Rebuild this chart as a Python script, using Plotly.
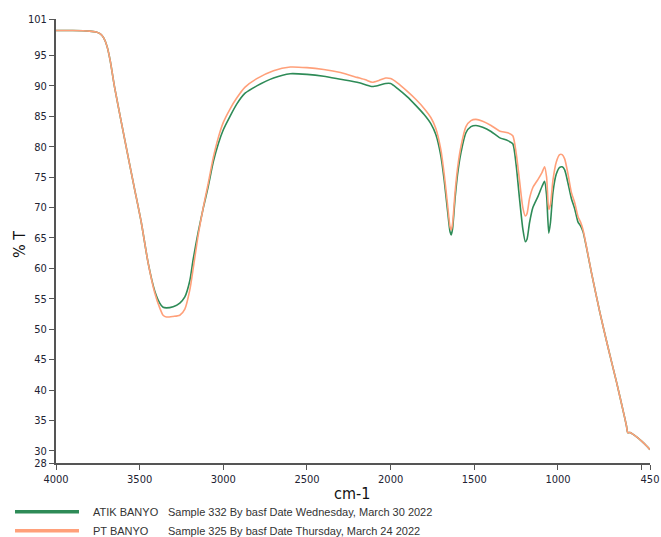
import plotly.graph_objects as go

# Wavenumbers (cm-1)
wavenumber = [4000, 3900, 3800, 3760, 3735, 3715, 3695, 3675, 3650, 3610, 3570, 3530, 3490, 3450,
              3410, 3380, 3360, 3340, 3300, 3260, 3230, 3200, 3180, 3150, 3120, 3090, 3060,
              3030, 3000, 2960, 2920, 2870, 2800, 2700, 2600, 2500, 2400, 2300, 2200, 2150,
              2110, 2070, 2030, 2000, 1960, 1900, 1850, 1800, 1760, 1730, 1700, 1680, 1660,
              1645, 1638, 1630, 1615, 1600, 1580, 1550, 1520, 1490, 1450, 1400, 1350, 1300,
              1270, 1250, 1230, 1210, 1195, 1185, 1170, 1150, 1120, 1095, 1080, 1068, 1055,
              1045, 1030, 1010, 990, 975, 960, 940, 920, 900, 880, 865, 850, 830, 800, 750,
              700, 650, 600, 590, 583, 570, 540, 500, 470, 450]

# %T for ATIK BANYO (green)
atik_banyo = [99.1, 99.1, 99.0, 98.85, 98.55, 97.9, 96.5, 94.0, 89.8, 84.1, 78.5, 73.0, 67.5, 61.0,
              56.3, 54.3, 53.6, 53.5, 53.7, 54.3, 55.3, 58.0, 61.5, 66.0, 69.9, 73.5, 77.5,
              80.5, 82.8, 85.0, 87.0, 88.8, 90.0, 91.3, 92.0, 91.9, 91.6, 91.1, 90.6, 90.2,
              89.9, 90.1, 90.4, 90.4, 89.6, 88.2, 86.8, 85.3, 83.8, 82.0, 78.5, 74.5, 69.5,
              66.0, 65.5, 66.5, 71.5, 75.5, 79.0, 82.3, 83.3, 83.5, 83.2, 82.5, 81.5, 81.0,
              80.5, 77.0, 71.5, 66.5, 64.4, 64.8, 67.5, 70.0, 71.8, 73.5, 74.3, 72.0, 65.8,
              67.5, 72.5, 75.5, 76.6, 76.7, 76.2, 74.0, 71.5, 69.8, 67.6, 67.0, 66.0, 63.5,
              59.3, 52.8, 46.9, 41.3, 35.3, 34.0, 33.0, 33.0, 32.5, 31.6, 30.8, 30.2]

# %T for PT BANYO (orange)
pt_banyo = [99.1, 99.1, 99.0, 98.85, 98.55, 97.9, 96.5, 94.0, 89.8, 84.1, 78.5, 73.0, 67.5, 61.0,
            56.0, 53.5, 52.3, 52.0, 52.1, 52.3, 53.3, 56.5, 60.0, 65.5, 70.0, 74.0, 78.2,
            81.5, 84.0, 86.2, 88.0, 89.8, 91.2, 92.5, 93.1, 93.0, 92.7, 92.2, 91.4, 91.0,
            90.6, 90.9, 91.3, 91.2, 90.5, 89.1, 87.8, 86.3, 84.8, 83.0, 79.5, 75.5, 70.5,
            66.8, 66.3, 67.3, 72.5, 76.5, 80.0, 83.3, 84.3, 84.5, 84.2, 83.5, 82.6, 82.3,
            81.8, 79.0, 74.5, 70.0, 68.6, 69.0, 71.5, 73.3, 74.6, 75.8, 76.7, 75.0, 69.7,
            70.5, 74.5, 77.5, 78.7, 78.7, 78.0, 75.5, 72.5, 70.8, 68.5, 67.6, 66.3, 63.6,
            59.3, 52.8, 46.9, 41.3, 35.3, 34.0, 33.0, 33.0, 32.5, 31.6, 30.8, 30.2]

y_ticks = [101, 95, 90, 85, 80, 75, 70, 65, 60, 55, 50, 45, 40, 35, 30, 28]
x_ticks = [4000, 3500, 3000, 2500, 2000, 1500, 1000, 500, 450]
x_tick_text = ["4000", "3500", "3000", "2500", "2000", "1500", "1000", "", "450"]

series_names = ["ATIK BANYO", "PT BANYO"]
series_desc = ["Sample 332 By basf Date Wednesday, March 30 2022",
               "Sample 325 By basf Date Thursday, March 24 2022"]
colors = ["#2e8b57", "#ffa07a"]

fig = go.Figure()
for name, vals, col in zip(series_names, [atik_banyo, pt_banyo], colors):
    fig.add_trace(go.Scatter(x=wavenumber, y=vals, mode="lines", name=name,
                             line=dict(color=col, width=1.6, shape="spline", smoothing=0.6),
                             showlegend=False))

narrow = "DejaVu Sans Condensed, Liberation Sans Narrow, Arial Narrow, sans-serif"
tick_font = dict(family=narrow, size=11, color="#222233")

fig.update_layout(
    width=661, height=537,
    margin=dict(l=56, r=11, t=19, b=74),
    paper_bgcolor="white", plot_bgcolor="white",
    xaxis=dict(range=[4000, 450], tickmode="array", tickvals=x_ticks, ticktext=x_tick_text,
               showgrid=False, zeroline=False, showline=True, linecolor="#555555", linewidth=2,
               ticks="outside", ticklen=5, tickcolor="#555555", tickfont=tick_font,
               automargin=False),
    yaxis=dict(range=[28, 101], tickmode="array", tickvals=y_ticks,
               showgrid=False, zeroline=False, showline=True, linecolor="#555555", linewidth=2,
               ticks="outside", ticklen=5, tickcolor="#555555", tickfont=tick_font,
               automargin=False),
)

# Axis titles
fig.add_annotation(xref="paper", yref="paper", x=0.498, y=-0.0698, text="cm-1",
                   showarrow=False, xanchor="center", yanchor="middle",
                   font=dict(family=narrow, size=16, color="#111111"))
fig.add_annotation(xref="paper", yref="paper", x=-0.0606, y=0.491, text="% T",
                   showarrow=False, textangle=-90, xanchor="center", yanchor="middle",
                   font=dict(family=narrow, size=16, color="#111111"))

# Custom legend below the plot
legend_y = [-0.1097, -0.1525]
for i, (name, desc, col) in enumerate(zip(series_names, series_desc, colors)):
    fig.add_shape(type="line", xref="paper", yref="paper",
                  x0=-0.069, x1=0.0387, y0=legend_y[i], y1=legend_y[i],
                  line=dict(color=col, width=3.5))
    fig.add_annotation(xref="paper", yref="paper", x=0.0589, y=legend_y[i], text=name,
                       showarrow=False, xanchor="left", yanchor="middle",
                       font=dict(family="Liberation Sans, Arial, sans-serif", size=11,
                                 color="#333333"))
    fig.add_annotation(xref="paper", yref="paper", x=0.1855, y=legend_y[i], text=desc,
                       showarrow=False, xanchor="left", yanchor="middle",
                       font=dict(family="Liberation Sans, Arial, sans-serif", size=11,
                                 color="#333333"))

fig.write_html("out.html")
